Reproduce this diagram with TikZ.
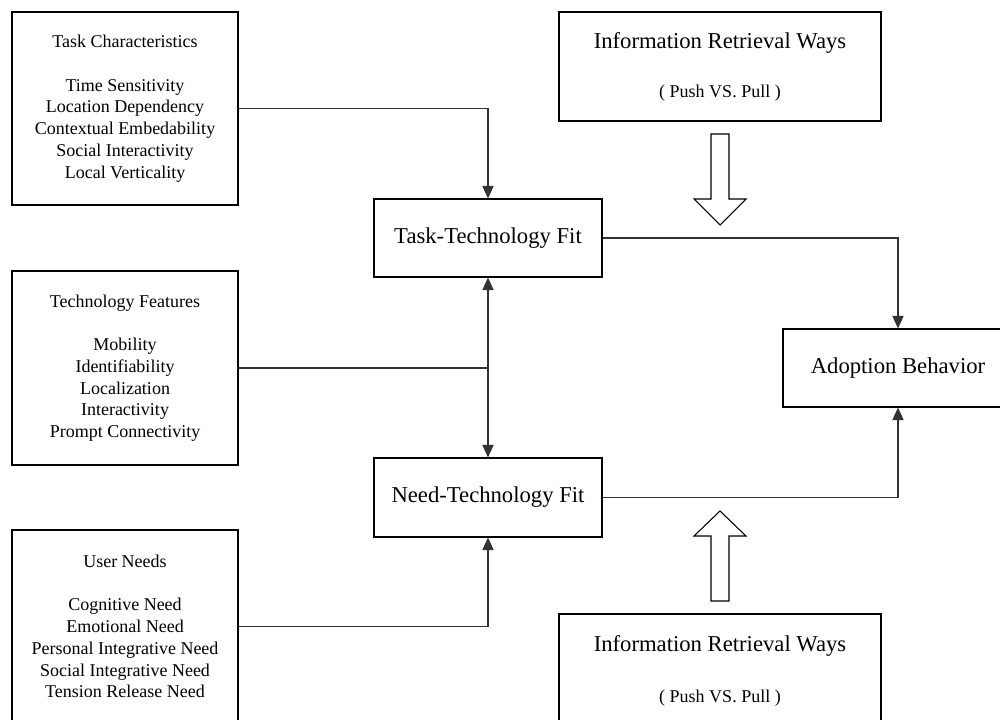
\documentclass[tikz,border=0pt]{standalone}
\usepackage{fontspec}
\setmainfont{Liberation Serif}
\usetikzlibrary{arrows.meta}
\begin{document}
\begin{tikzpicture}[x=0.75pt,y=-0.75pt,
  box/.style={draw=black, line width=0.8pt, inner sep=0pt, align=center},
  small/.style={font=\fontsize{13.5}{16.3}\selectfont, align=center},
  big/.style={font=\fontsize{17}{20}\selectfont, align=center},
  conn/.style={draw=black!80, line width=0.8pt},
  tip/.style={-{Triangle[length=9.5pt,width=8.5pt]}},
  hollow/.style={draw=black, line width=0.8pt, fill=white}]
\useasboundingbox (0,0) rectangle (1000,720);
\clip (0,0) rectangle (1000,720);

% left column boxes
\node[box, small, minimum width=169.5pt, minimum height=144.75pt] (tc) at (125,108.5)
  {Task Characteristics\\[16.3pt]Time Sensitivity\\Location Dependency\\Contextual Embedability\\Social Interactivity\\Local Verticality};
\node[box, small, minimum width=169.5pt, minimum height=145.5pt] (tf) at (125,368)
  {Technology Features\\[16.3pt]Mobility\\Identifiability\\Localization\\Interactivity\\Prompt Connectivity};
\node[box, small, minimum width=169.5pt, minimum height=144.75pt] (un) at (125,626.5)
  {User Needs\\[16.3pt]Cognitive Need\\Emotional Need\\Personal Integrative Need\\Social Integrative Need\\Tension Release Need};

% middle boxes
\node[box, big, minimum width=171pt, minimum height=58.5pt] (ttf) at (488,238) {Task-Technology Fit};
\node[box, big, minimum width=171pt, minimum height=59.25pt] (ntf) at (488,497.5) {Need-Technology Fit};

% right box
\node[box, big, minimum width=172.5pt, minimum height=58.5pt] (ab) at (898,368) {Adoption Behavior};

% information retrieval boxes
\node[box, minimum width=241.5pt, minimum height=81.75pt] (ir1) at (720,66.5) {};
\node[big] (ir1a) at (720,43) {Information Retrieval Ways};
\node[small] (ir1b) at (720,93) {( Push VS. Pull )};
\node[box, minimum width=241.5pt, minimum height=81.75pt] (ir2) at (720,668.5) {};
\node[big] (ir2a) at (720,646) {Information Retrieval Ways};
\node[small] (ir2b) at (720,698) {( Push VS. Pull )};

% block arrows
\draw[hollow] (711,134) -- (729,134) -- (729,199) -- (746,199) -- (720,225) -- (694,199) -- (711,199) -- cycle;
\draw[hollow] (711,601) -- (729,601) -- (729,536) -- (746,536) -- (720,511) -- (694,536) -- (711,536) -- cycle;

% connectors
\draw[conn, tip] (tc.east) -| (ttf.north);
\coordinate (j) at (tf.east -| ttf.south);
\draw[conn] (tf.east) -- (j);
\draw[conn, tip] (j) -- (ttf.south);
\draw[conn, tip] (j) -- (ntf.north);
\draw[conn, tip] (un.east) -| (ntf.south);
\draw[conn, tip] (ttf.east) -| (ab.north);
\draw[conn, tip] (ntf.east) -| (ab.south);
\end{tikzpicture}
\end{document}
